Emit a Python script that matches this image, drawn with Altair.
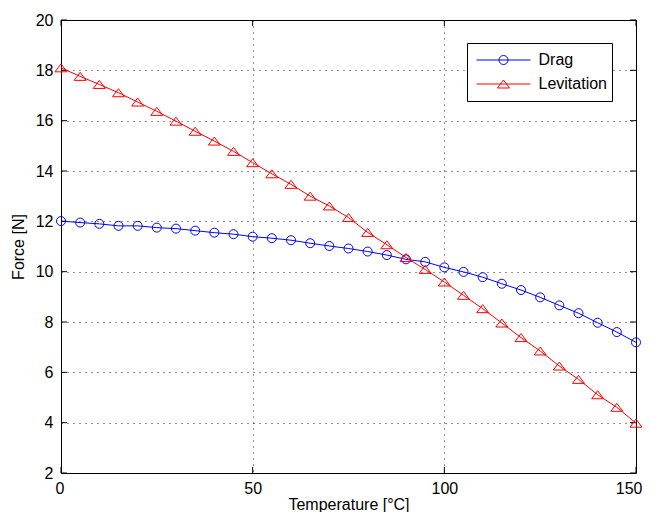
import altair as alt
import pandas as pd

temperature = list(range(0, 155, 5))
drag = [12.01, 11.95, 11.90, 11.82, 11.82, 11.75, 11.71, 11.63, 11.55, 11.49,
        11.39, 11.33, 11.25, 11.13, 11.02, 10.92, 10.80, 10.66, 10.49, 10.39,
        10.17, 9.99, 9.78, 9.52, 9.27, 8.98, 8.66, 8.35, 7.97, 7.60, 7.19]
levitation = [18.10, 17.76, 17.44, 17.11, 16.74, 16.37, 15.98, 15.58, 15.19, 14.78,
              14.33, 13.89, 13.47, 13.00, 12.61, 12.15, 11.56, 11.07, 10.56, 10.09,
              9.59, 9.06, 8.53, 7.96, 7.38, 6.85, 6.25, 5.72, 5.11, 4.61, 3.98]
series_names = ["Drag", "Levitation"]
series_colors = ["#0000FF", "#FF0000"]
x_ticks = [0, 50, 100, 150]
y_ticks = [2, 4, 6, 8, 10, 12, 14, 16, 18, 20]

rows = []
for name, vals in zip(series_names, [drag, levitation]):
    for t, v in zip(temperature, vals):
        rows.append({"temperature": t, "force": v, "series": name})
df = pd.DataFrame(rows)

W, H = 575, 453
FONT = "Liberation Sans, Arial, Helvetica, sans-serif"

xs = alt.Scale(domain=[0, 150], nice=False, zero=False)
ys = alt.Scale(domain=[2, 20], nice=False, zero=False)

common_axis = dict(grid=True, gridColor="black", gridDash=[1, 5], gridOpacity=0.85,
                   domain=False, ticks=False, labelFontSize=16, titleFontSize=16,
                   titleFontWeight="normal", labelColor="black", titleColor="black",
                   labelFont=FONT, titleFont=FONT, labelOverlap=False)
xaxis = alt.Axis(values=x_ticks, title="Temperature [°C]", labelPadding=7,
                 titlePadding=0, labelFlush=True, labelFlushOffset=6, **common_axis)
yaxis = alt.Axis(values=y_ticks, title="Force [N]", labelPadding=8,
                 titlePadding=9, labelFlush=False, **common_axis)

X = alt.X("temperature:Q", scale=xs, axis=xaxis)
Y = alt.Y("force:Q", scale=ys, axis=yaxis)

# legend symbols: line with marker (custom paths)
circ_path = "M-1,0H1M-0.167,0A0.167,0.167,0,1,1,0.167,0A0.167,0.167,0,1,1,-0.167,0"
tri_path = "M-1,0H1M0,-0.148L0.222,0.148L-0.222,0.148Z"
legend = alt.Legend(
    title=None, orient="none", legendX=406, legendY=23,
    symbolSize=2916, clipHeight=24, symbolStrokeWidth=1, symbolOffset=4,
    labelOffset=7.5, labelFontSize=16, labelFont=FONT, labelColor="black",
    padding=5, fillColor="white", strokeColor="black", rowPadding=0,
    symbolFillColor="transparent", symbolOpacity=1,
)

color_scale = alt.Scale(domain=series_names, range=series_colors)
marker_tri = "M0,-0.889L1.333,0.889L-1.333,0.889Z"

base = alt.Chart(df)
lines = base.mark_line(strokeWidth=1).encode(
    x=X, y=Y, color=alt.Color("series:N", scale=color_scale, legend=None))
points = base.mark_point(filled=False, size=81, strokeWidth=1, opacity=1).encode(
    x=X, y=Y,
    color=alt.Color("series:N", scale=color_scale, legend=None),
    shape=alt.Shape("series:N", scale=alt.Scale(domain=series_names, range=["circle", marker_tri]), legend=None),
)
legend_layer = base.mark_point(filled=False, size=81, strokeWidth=1, opacity=0).encode(
    x=X, y=Y,
    color=alt.Color("series:N", scale=color_scale, legend=legend),
    shape=alt.Shape("series:N", scale=alt.Scale(domain=series_names, range=[circ_path, tri_path]), legend=legend),
)

xt = pd.DataFrame({"temperature": x_ticks})
yt = pd.DataFrame({"force": y_ticks})
tick_style = dict(color="black", strokeWidth=1)
t_bottom = alt.Chart(xt).mark_rule(**tick_style).encode(x=X, y=alt.value(H), y2=alt.value(H - 6))
t_top = alt.Chart(xt).mark_rule(**tick_style).encode(x=X, y=alt.value(0), y2=alt.value(6))
t_left = alt.Chart(yt).mark_rule(**tick_style).encode(y=Y, x=alt.value(0), x2=alt.value(6))
t_right = alt.Chart(yt).mark_rule(**tick_style).encode(y=Y, x=alt.value(W), x2=alt.value(W - 6))

chart = alt.layer(t_bottom, t_top, t_left, t_right, lines, points, legend_layer).resolve_scale(
    color="independent", shape="independent"
).properties(
    width=W, height=H,
    padding={"left": 53, "top": 12, "right": 6, "bottom": 39},
    autosize=alt.AutoSizeParams(type="none"),
    background="white",
).configure_view(stroke="black", strokeWidth=1)

chart.save("out.html", embed_options={"renderer": "svg", "actions": False})
